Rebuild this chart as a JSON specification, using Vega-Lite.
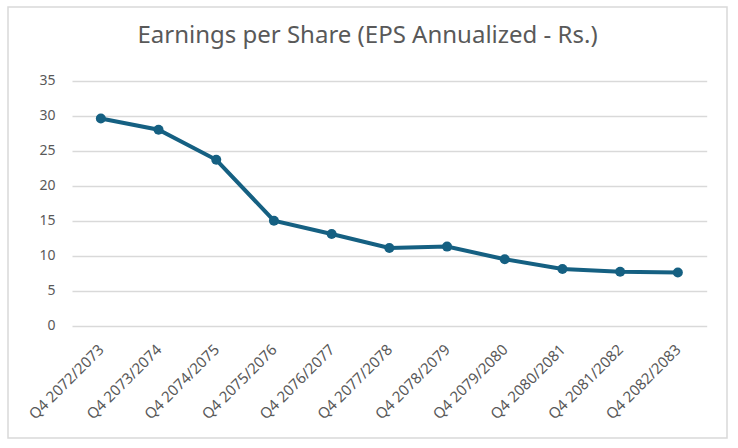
{
  "$schema": "https://vega.github.io/schema/vega-lite/v6.json",
  "autosize": "none",
  "padding": {"left": 8, "top": 7, "right": 11, "bottom": 10},
  "width": 719,
  "height": 431,
  "background": "white",
  "title": {
    "text": "Earnings per Share (EPS Annualized - Rs.)",
    "font": "Noto Sans",
    "fontSize": 24,
    "fontWeight": "normal",
    "color": "#595959",
    "anchor": "middle",
    "frame": "group",
    "baseline": "middle",
    "offset": -53
  },
  "data": {
    "values": [
      {"quarter": "Q4 2072/2073", "eps": 29.6},
      {"quarter": "Q4 2073/2074", "eps": 28.0},
      {"quarter": "Q4 2074/2075", "eps": 23.7},
      {"quarter": "Q4 2075/2076", "eps": 15.0},
      {"quarter": "Q4 2076/2077", "eps": 13.1},
      {"quarter": "Q4 2077/2078", "eps": 11.1},
      {"quarter": "Q4 2078/2079", "eps": 11.3},
      {"quarter": "Q4 2079/2080", "eps": 9.5},
      {"quarter": "Q4 2080/2081", "eps": 8.1},
      {"quarter": "Q4 2081/2082", "eps": 7.7},
      {"quarter": "Q4 2082/2083", "eps": 7.6}
    ]
  },
  "mark": {
    "type": "line",
    "color": "#156082",
    "strokeWidth": 4,
    "point": {"filled": true, "size": 100, "color": "#156082"}
  },
  "encoding": {
    "x": {
      "field": "quarter",
      "type": "nominal",
      "sort": null,
      "scale": {"type": "point", "padding": 0.5, "range": [64, 698.7]},
      "axis": {
        "title": null,
        "offset": -112.3,
        "labelAngle": -45,
        "labelPadding": 16,
        "labelOffset": -5,
        "labelFontSize": 15,
        "labelColor": "#595959",
        "labelFont": "Noto Sans",
        "domain": false,
        "ticks": false,
        "grid": false
      }
    },
    "y": {
      "field": "eps",
      "type": "quantitative",
      "scale": {"domain": [0, 35], "range": [318.7, 73.7], "nice": false},
      "axis": {
        "title": null,
        "offset": -64,
        "values": [0, 5, 10, 15, 20, 25, 30, 35],
        "labelPadding": 17,
        "labelFontSize": 14,
        "labelColor": "#595959",
        "labelFont": "Noto Sans",
        "domain": false,
        "ticks": false,
        "grid": true,
        "gridColor": "#d9d9d9",
        "gridWidth": 1.3
      }
    }
  },
  "config": {
    "view": {"stroke": "#d9d9d9", "strokeWidth": 1.5}
  }
}
